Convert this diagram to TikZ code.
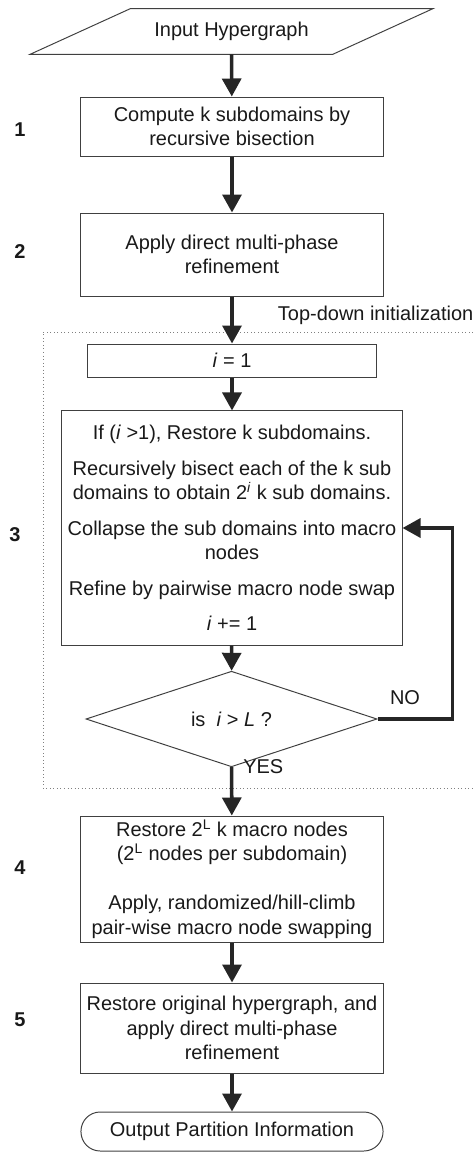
\documentclass[tikz,border=0pt]{standalone}
\usepackage{fontspec}
\setmainfont{Liberation Sans}
\usetikzlibrary{arrows.meta,shapes.geometric,calc}

\tikzset{
  stepbox/.style={draw=black!75, line width=0.7pt, align=center, inner sep=0pt, minimum width=7.55cm},
  flow/.style={line width=2.5pt, draw=black!85, -{Triangle[width=13.5pt,length=12.8pt]}},
  steplabel/.style={font=\fontsize{14.2}{17.4}\selectfont\bfseries},
}

\begin{document}
\begin{tikzpicture}[x=0.025cm,y=-0.025cm,font=\fontsize{14.2}{17.4}\selectfont,text=black!90]
  \useasboundingbox (0,0) rectangle (473,1152);

  % frame round step 3
  \draw[black!50, dotted, line width=0.5pt] (473,332) -- (43,332) -- (43,788) -- (473,788);
  \node[anchor=west] (topdown) at (273,315) {Top-down initialization};

  \node[minimum width=7.55cm, minimum height=1.125cm, inner sep=0pt] (input) at (231.5,31.5) {Input Hypergraph};
  \draw[black!75, line width=0.7pt] ($(input.south west)+(-50,0)$) -- ($(input.north west)+(50,0)$)
    -- ($(input.north east)+(50,0)$) -- ($(input.south east)+(-50,0)$) -- cycle;

  \node[stepbox, minimum height=1.475cm] (comp) at (232,126.5) {Compute k subdomains by\\recursive bisection};
  \node[stepbox, minimum height=2.075cm] (refine) at (232,254.5) {Apply direct multi-phase\\refinement};
  \node[stepbox, minimum width=7.2cm, minimum height=0.825cm] (init) at (232,360.5) {\textit{i} = 1};
  \node[stepbox, minimum width=8.5cm, minimum height=5.85cm] (loop) at (232,528) {%
    If (\textit{i} >1), Restore k subdomains.\\[7.8pt]
    Recursively bisect each of the k sub\\
    domains to obtain 2\textsuperscript{\textit{i}} k sub domains.\\[7.8pt]
    Collapse the sub domains into macro\\
    nodes\\[7.8pt]
    Refine by pairwise macro node swap\\[7.8pt]
    \textit{i} += 1};
  \node[diamond, draw=black!75, line width=0.7pt, inner sep=0pt, minimum width=7.275cm, minimum height=1.8cm] (check) at (231.5,719)
    {is~~\textit{i} > \textit{L} ?};
  \node[stepbox, minimum height=3.15cm] (restore) at (232,879) {%
    Restore 2\textsuperscript{L} k macro nodes\\
    (2\textsuperscript{L} nodes per subdomain)\\[17.4pt]
    Apply, randomized/hill-climb\\
    pair-wise macro node swapping};
  \node[stepbox, minimum height=2.25cm] (final) at (232,1028) {Restore original hypergraph, and\\apply direct multi-phase\\refinement};
  \node[stepbox, minimum height=0.975cm, rounded corners=0.48cm] (output) at (232,1131.5) {Output Partition Information};

  % step numbers
  \node[steplabel] (n1) at (20,130) {1};
  \node[steplabel] (n2) at (20,252) {2};
  \node[steplabel] (n3) at (15,535) {3};
  \node[steplabel] (n4) at (20,868) {4};
  \node[steplabel] (n5) at (20,1020) {5};

  \draw[flow] (input.south) -- (comp);
  \draw[flow] (comp) -- (refine);
  \draw[flow] (refine) -- (init);
  \draw[flow] (init) -- (loop);
  \draw[flow] (loop) -- (check);
  \draw[flow] (check) -- (restore);
  \draw[flow] (check.east) -- ++(75,0) |- (loop.east);
  \draw[flow] (restore) -- (final);
  \draw[flow] (final) -- (output);

  \node (no) at (405,698) {NO};
  \node[anchor=west, inner sep=0pt] (yes) at (243,767) {YES};
\end{tikzpicture}
\end{document}
